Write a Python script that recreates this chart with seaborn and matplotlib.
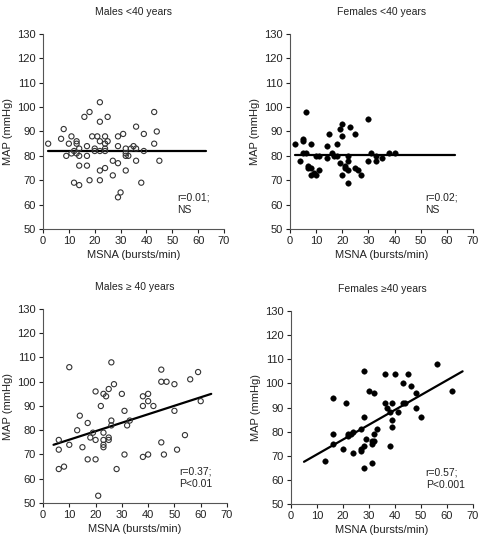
import matplotlib
matplotlib.use("Agg")
import matplotlib.pyplot as plt
import seaborn as sns
import pandas as pd

sns.set_theme(style="white")
plt.rcParams['font.family'] = ['Liberation Sans', 'DejaVu Sans']

# ---- data ----
titles = ["Males <40 years", "Females <40 years", "Males \u2265 40 years", "Females \u226540 years"]
stats = ["r=0.01;\nNS", "r=0.02;\nNS", "r=0.37;\nP<0.01", "r=0.57;\nP<0.001"]
filled = [False, True, False, True]

m_young_x = [2, 7, 8, 9, 10, 11, 11, 12, 12, 13, 13, 13, 14, 14, 14, 14, 16, 17, 17, 17, 18, 18, 19, 20, 20, 21,
             22, 22, 22, 22, 22, 22, 24, 24, 24, 24, 24, 25, 25, 27, 27, 29, 29, 29, 29, 30, 31, 32, 32, 32, 32,
             33, 34, 35, 36, 36, 36, 38, 39, 39, 43, 43, 44, 45]
m_young_y = [85, 87, 91, 80, 85, 88, 81, 82, 69, 86, 85, 81, 83, 80, 76, 68, 96, 84, 80, 76, 98, 70, 88, 83, 82, 88,
             102, 94, 86, 82, 74, 70, 88, 85, 83, 82, 75, 96, 86, 78, 72, 88, 84, 77, 63, 65, 89, 83, 81, 80, 74,
             80, 83, 84, 92, 83, 78, 69, 89, 82, 98, 85, 90, 78]
m_young_line_x = [2, 63]
m_young_line_y = [82, 82]

f_young_x = [2, 4, 5, 5, 5, 6, 6, 7, 7, 8, 8, 8, 9, 10, 10, 11, 11, 14, 14, 15, 16, 17, 18, 18, 19, 19, 20, 20,
             20, 21, 21, 22, 22, 22, 22, 23, 25, 25, 26, 27, 30, 30, 31, 33, 33, 35, 38, 40]
f_young_y = [85, 78, 87, 86, 81, 98, 81, 76, 75, 85, 75, 72, 73, 80, 72, 80, 74, 84, 79, 89, 81, 80, 85, 80, 91, 77,
             93, 88, 72, 76, 75, 80, 78, 74, 69, 92, 89, 75, 74, 72, 95, 78, 81, 80, 78, 79, 81, 81]
f_young_line_x = [2, 63]
f_young_line_y = [80.5, 80.5]

m_old_x = [6, 6, 6, 8, 10, 10, 13, 14, 15, 17, 17, 18, 19, 20, 20, 20, 21, 22, 23, 23, 23, 23, 23, 24, 25, 25,
           25, 26, 26, 26, 27, 28, 30, 31, 31, 32, 33, 38, 38, 38, 40, 40, 40, 42, 45, 45, 45, 46, 47, 50, 50,
           51, 54, 56, 59, 60]
m_old_y = [76, 72, 64, 65, 106, 74, 80, 86, 73, 83, 68, 77, 79, 96, 76, 68, 53, 90, 95, 79, 76, 74, 73, 94, 97, 77,
           76, 108, 84, 82, 99, 64, 95, 88, 70, 82, 84, 94, 90, 69, 95, 92, 70, 90, 105, 100, 75, 70, 100, 99, 88,
           72, 78, 101, 104, 92]
m_old_line_x = [4, 64]
m_old_line_y = [74, 95]

f_old_x = [13, 16, 16, 16, 20, 21, 22, 22, 23, 24, 24, 27, 27, 27, 28, 28, 28, 28, 29, 30, 31, 31, 31, 32, 32, 32,
           33, 36, 36, 37, 38, 38, 39, 39, 39, 40, 41, 43, 43, 44, 45, 46, 48, 48, 50, 56, 62]
f_old_y = [68, 94, 79, 75, 73, 92, 78, 79, 79, 71, 80, 81, 73, 72, 105, 86, 74, 65, 77, 97, 76, 75, 67, 96, 79, 76,
           81, 104, 92, 90, 74, 88, 92, 85, 82, 104, 88, 100, 92, 92, 104, 99, 96, 90, 86, 108, 97]
f_old_line_x = [5, 66]
f_old_line_y = [67.5, 105]

xs = [m_young_x, f_young_x, m_old_x, f_old_x]
ys = [m_young_y, f_young_y, m_old_y, f_old_y]
lxs = [m_young_line_x, f_young_line_x, m_old_line_x, f_old_line_x]
lys = [m_young_line_y, f_young_line_y, m_old_line_y, f_old_line_y]

x_ticks = [0, 10, 20, 30, 40, 50, 60, 70]
y_ticks = [50, 60, 70, 80, 90, 100, 110, 120, 130]

# ---- layout ----
fig = plt.figure(figsize=(4.8, 5.4), dpi=100)
W, H = 480, 540
boxes = [(43, 34, 224, 229), (290, 34, 473, 229), (43, 309, 227, 503), (291, 311, 473, 504)]
txt = "#222222"

for i in range(4):
    x0, y0, x1, y1 = boxes[i]
    ax = fig.add_axes([x0 / W, 1 - y1 / H, (x1 - x0) / W, (y1 - y0) / H])
    df = pd.DataFrame({"x": xs[i], "y": ys[i]})
    if filled[i]:
        sns.scatterplot(data=df, x="x", y="y", ax=ax, s=16, color="black", edgecolor="black",
                        linewidth=0.3, zorder=3)
    else:
        sns.scatterplot(data=df, x="x", y="y", ax=ax, s=14, facecolor="none", edgecolor="#333333",
                        linewidth=0.8, zorder=3)
    ldf = pd.DataFrame({"x": lxs[i], "y": lys[i]})
    sns.lineplot(data=ldf, x="x", y="y", ax=ax, color="black", linewidth=1.6, zorder=2)
    ax.set_xlim(0, 70)
    ax.set_ylim(50, 130)
    ax.set_xticks(x_ticks)
    ax.set_yticks(y_ticks)
    ax.tick_params(axis="both", labelsize=8, colors=txt, length=3, width=0.8, direction="out",
                   bottom=True, left=True, pad=2)
    for s in ["top", "right"]:
        ax.spines[s].set_visible(False)
    for s in ["left", "bottom"]:
        ax.spines[s].set_color("#555555")
        ax.spines[s].set_linewidth(0.8)
    ax.set_xlabel("MSNA (bursts/min)", fontsize=8, color=txt, labelpad=3)
    ax.set_ylabel("MAP (mmHg)", fontsize=8, color=txt, labelpad=3)
    ax.set_title(titles[i], fontsize=7.5, color=txt, pad=14)
    ax.text(0.74, 0.13, stats[i], transform=ax.transAxes, fontsize=7.5, color=txt,
            ha="left", va="center", linespacing=1.3)

fig.savefig("out.png", dpi=100)
